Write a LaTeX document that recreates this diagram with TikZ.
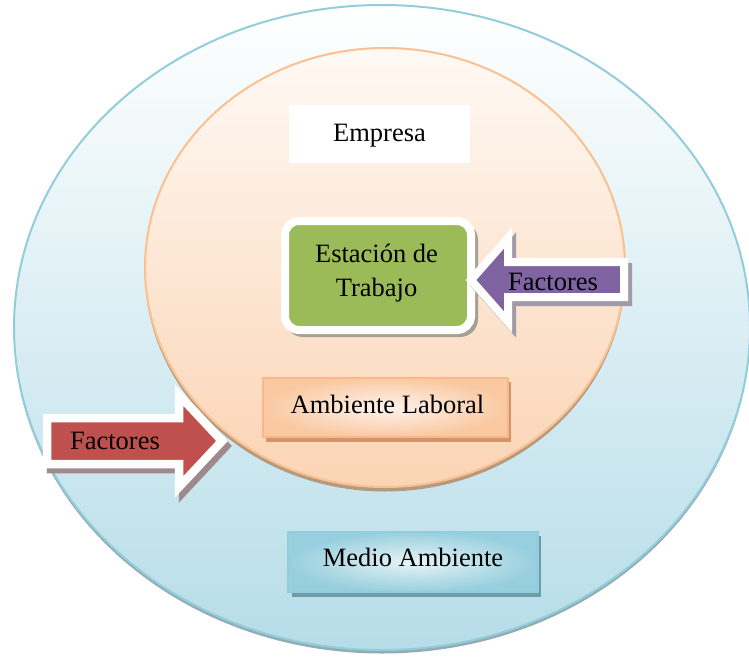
\documentclass[tikz,border=0pt]{standalone}
\usepackage{fontspec}
\setmainfont{Liberation Serif}
\definecolor{outerline}{HTML}{92CDDC}
\definecolor{outerlow}{HTML}{B6DDE8}
\definecolor{outershade}{HTML}{93ABB2}
\definecolor{innerline}{HTML}{FAC08F}
\definecolor{innertop}{HTML}{FEF9F4}
\definecolor{innerlow}{HTML}{FBD4B4}
\definecolor{innershade}{HTML}{B49A7E}
\definecolor{stationgreen}{HTML}{9BBB59}
\definecolor{stationshade}{HTML}{A3A291}
\definecolor{factpurple}{HTML}{8064A2}
\definecolor{purpleshade}{HTML}{A19BA8}
\definecolor{factred}{HTML}{C0504D}
\definecolor{redshade}{HTML}{9E8A8A}
\definecolor{peachline}{HTML}{F9B88C}
\definecolor{peachdark}{HTML}{FAC9A2}
\definecolor{peachlight}{HTML}{FEF3EC}
\definecolor{peachshade}{HTML}{D0956A}
\definecolor{blueline}{HTML}{92CDDC}
\definecolor{bluedark}{HTML}{98CFDE}
\definecolor{bluelight}{HTML}{E6F4F7}
\definecolor{blueshade}{HTML}{6E9DAA}
\begin{document}
\begin{tikzpicture}[x=1pt,y=-1pt,
  every node/.style={font=\fontsize{26.5}{34}\selectfont, text=black, inner sep=0pt},
  caption/.style={align=center},
  arrowbody/.style={draw=white, line width=8.5pt, line join=miter},
  framebox/.style={rectangle, line width=1.6pt}
]
\useasboundingbox (0,0) rectangle (749,656);

% outer ellipse: the surrounding environment
\fill[outershade] (382,331) ellipse [x radius=368, y radius=322.5];
\draw[outerline, line width=2pt, top color=white, bottom color=outerlow]
  (382,327.5) ellipse [x radius=368, y radius=322.5];

% inner circle: the company
\fill[innershade] (385,272) ellipse [x radius=240, y radius=219.5];
\draw[innerline, line width=2pt, top color=innertop, bottom color=innerlow]
  (385,267.5) ellipse [x radius=240, y radius=219.5];

% company label
\node[fill=white, minimum width=181pt, minimum height=58pt] (empbox) at (379.5,134) {};
\node (emp) at (379.5,135.5) {Empresa};

% workstation
\fill[stationshade, rounded corners=18pt] (285,222) rectangle (478,337);
\node[draw=white, line width=8pt, fill=stationgreen, rounded corners=14pt,
      minimum width=186pt, minimum height=109pt] (estbox) at (378,275.5) {};
\node[caption] (est) at (376.5,273.5) {Estación de\\Trabajo};

% work environment
\fill[peachshade] (266,382) rectangle (511,442);
\node[framebox, draw=peachline, inner color=peachlight, outer color=peachdark,
      minimum width=245pt, minimum height=59pt] (ambbox) at (385.5,407.5) {};
\node (amb) at (387.5,404.5) {Ambiente Laboral};

% surrounding environment label
\fill[blueshade] (292,536) rectangle (541,597);
\node[framebox, draw=blueline, inner color=bluelight, outer color=bluedark,
      minimum width=250pt, minimum height=60pt] (medbox) at (413,562) {};
\node (med) at (413,557.5) {Medio Ambiente};

% external factors (red arrow, pointing right)
\filldraw[redshade, line width=8.5pt, line join=miter]
  (51,423) -- (183,423) -- (183,400) -- (226,446) -- (183,492) -- (183,469) -- (51,469) -- cycle;
\filldraw[arrowbody, fill=factred]
  (47,418) -- (179,418) -- (179,395) -- (222,441) -- (179,487) -- (179,464) -- (47,464) -- cycle;
\node (fred) at (115,441) {Factores};

% factors acting on the workstation (purple arrow, pointing left)
\filldraw[purpleshade, line width=8pt, line join=miter]
  (475,285) -- (512,243) -- (512,267) -- (628,267) -- (628,302) -- (512,302) -- (512,327) -- cycle;
\filldraw[arrowbody, line width=8pt, fill=factpurple]
  (471,280) -- (508,238) -- (508,262) -- (624,262) -- (624,297) -- (508,297) -- (508,322) -- cycle;
\node (fpur) at (553,282) {Factores};
\end{tikzpicture}
\end{document}
